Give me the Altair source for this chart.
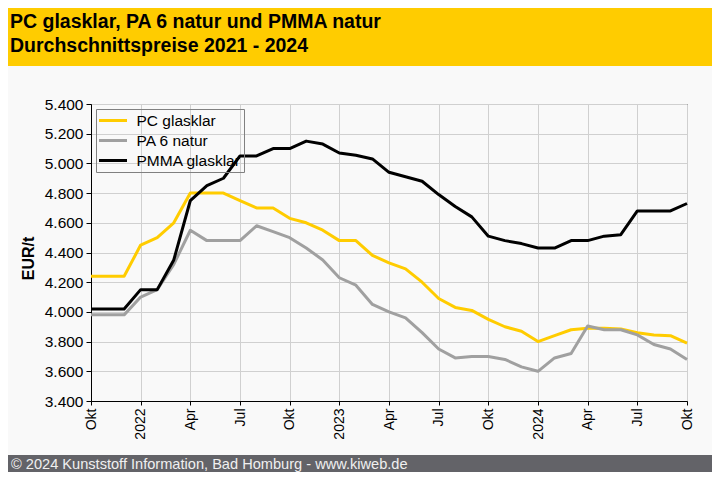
import altair as alt
import pandas as pd

# ---- data -------------------------------------------------------------
months = [
    "Okt 2021", "Nov 2021", "Dez 2021",
    "Jan 2022", "Feb 2022", "Mär 2022", "Apr 2022", "Mai 2022", "Jun 2022",
    "Jul 2022", "Aug 2022", "Sep 2022", "Okt 2022", "Nov 2022", "Dez 2022",
    "Jan 2023", "Feb 2023", "Mär 2023", "Apr 2023", "Mai 2023", "Jun 2023",
    "Jul 2023", "Aug 2023", "Sep 2023", "Okt 2023", "Nov 2023", "Dez 2023",
    "Jan 2024", "Feb 2024", "Mär 2024", "Apr 2024", "Mai 2024", "Jun 2024",
    "Jul 2024", "Aug 2024", "Sep 2024", "Okt 2024",
]
pc_glasklar = [4240, 4240, 4240, 4450, 4500, 4600, 4800, 4800, 4800, 4750, 4700, 4700,
               4630, 4600, 4550, 4480, 4480, 4380, 4330, 4290, 4200, 4090, 4030, 4010,
               3950, 3900, 3870, 3800, 3840, 3880, 3890, 3890, 3885, 3860, 3845, 3840, 3790]
pa6_natur = [3980, 3980, 3980, 4100, 4150, 4320, 4550, 4480, 4480, 4480, 4580, 4540,
             4500, 4430, 4350, 4230, 4180, 4050, 4000, 3960, 3860, 3750, 3690, 3700,
             3700, 3680, 3630, 3600, 3690, 3720, 3905, 3880, 3880, 3845, 3780, 3750, 3680]
pmma_glasklar = [4020, 4020, 4020, 4150, 4150, 4350, 4750, 4850, 4900, 5050, 5050, 5100,
                 5100, 5150, 5130, 5070, 5055, 5030, 4940, 4910, 4880, 4790, 4710, 4640,
                 4510, 4480, 4460, 4430, 4430, 4480, 4480, 4510, 4520, 4680, 4680, 4680, 4730]

series_names = ["PC glasklar", "PA 6 natur", "PMMA glasklar"]
series_colors = ["#FFCC00", "#A0A0A0", "#000000"]
tick_labels = ["Okt", "2022", "Apr", "Jul", "Okt", "2023", "Apr", "Jul", "Okt",
               "2024", "Apr", "Jul", "Okt"]
y_ticks = [3400, 3600, 3800, 4000, 4200, 4400, 4600, 4800, 5000, 5200, 5400]
title_lines = ["PC glasklar, PA 6 natur und PMMA natur",
               "Durchschnittspreise 2021 - 2024"]
footer_text = "© 2024 Kunststoff Information, Bad Homburg - www.kiweb.de"
y_title = "EUR/t"

FONT = "Liberation Sans, Arial, sans-serif"

rows = []
for name, vals in zip(series_names, [pc_glasklar, pa6_natur, pmma_glasklar]):
    for i, (m, v) in enumerate(zip(months, vals)):
        rows.append({"idx": i, "month": m, "series": name, "value": v})
df = pd.DataFrame(rows)

tick_values = list(range(0, len(months), 3))
label_expr = "[" + ",".join(f"'{t}'" for t in tick_labels) + "][round(datum.value/3)]"

W, H = 596, 297
PAD = {"left": 83, "top": 96, "right": 25, "bottom": 71}

lines = alt.Chart(df).mark_line(strokeWidth=3, strokeJoin="round").encode(
    x=alt.X("idx:Q",
            scale=alt.Scale(domain=[0, len(months) - 1], nice=False, zero=False),
            axis=alt.Axis(values=tick_values, labelExpr=label_expr, labelAngle=-90,
                          title=None, grid=True, gridColor="#D0D0D0",
                          domainColor="#000000", tickColor="#000000", tickSize=4,
                          labelPadding=3, labelFontSize=14, labelFont=FONT,
                          labelColor="#000000")),
    y=alt.Y("value:Q",
            scale=alt.Scale(domain=[3400, 5400], nice=False, zero=False),
            axis=alt.Axis(values=y_ticks,
                          labelExpr="replace(format(datum.value, ','), ',', '.')",
                          title=y_title, titleFont=FONT, titleFontSize=16,
                          titleFontWeight="bold", titleColor="#000000",
                          titleX=-58, titleY=154, titleAngle=270,
                          titleAlign="center", titleBaseline="alphabetic",
                          grid=True, gridColor="#D0D0D0",
                          domainColor="#000000", tickColor="#000000", tickSize=5,
                          labelPadding=3, labelFontSize=15.5, labelFont=FONT,
                          labelColor="#000000")),
    color=alt.Color("series:N",
                    scale=alt.Scale(domain=series_names, range=series_colors),
                    legend=alt.Legend(orient="none", legendX=5, legendY=5, title=None,
                                      strokeColor="#808080", padding=3,
                                      symbolType="M-2,0H2", symbolSize=196,
                                      symbolStrokeWidth=3, symbolOffset=5.5,
                                      labelOffset=15, rowPadding=3,
                                      labelFontSize=15.5, labelFont=FONT,
                                      labelColor="#000000")),
)

one = alt.Data(values=[{"a": 1}])

header = alt.Chart(one).mark_rect(color="#FFCC00").encode(
    x=alt.value(-PAD["left"]), x2=alt.value(W + PAD["right"]),
    y=alt.value(-PAD["top"]), y2=alt.value(-38))

title1 = alt.Chart(one).mark_text(align="left", baseline="alphabetic", font=FONT,
                                  fontSize=19.5, fontWeight="bold", color="#000000").encode(
    x=alt.value(-81), y=alt.value(-76), text=alt.value(title_lines[0]))
title2 = alt.Chart(one).mark_text(align="left", baseline="alphabetic", font=FONT,
                                  fontSize=19.5, fontWeight="bold", color="#000000").encode(
    x=alt.value(-81), y=alt.value(-52), text=alt.value(title_lines[1]))

footer = alt.Chart(one).mark_rect(color="#636368").encode(
    x=alt.value(-PAD["left"]), x2=alt.value(W + PAD["right"]),
    y=alt.value(351), y2=alt.value(H + PAD["bottom"]))
footer_t = alt.Chart(one).mark_text(align="left", baseline="alphabetic", font=FONT,
                                    fontSize=14.6, color="#F0F0F0").encode(
    x=alt.value(-80), y=alt.value(365), text=alt.value(footer_text))

chart = alt.layer(header, title1, title2, footer, footer_t, lines).properties(
    width=W, height=H, padding=PAD,
    autosize=alt.AutoSizeParams(type="none"),
    background="#F9F9F9",
).configure_view(stroke="#000000", strokeWidth=1, fill="#F9F9F9")

chart.save("out.html", embed_options={"renderer": "svg", "actions": False})
